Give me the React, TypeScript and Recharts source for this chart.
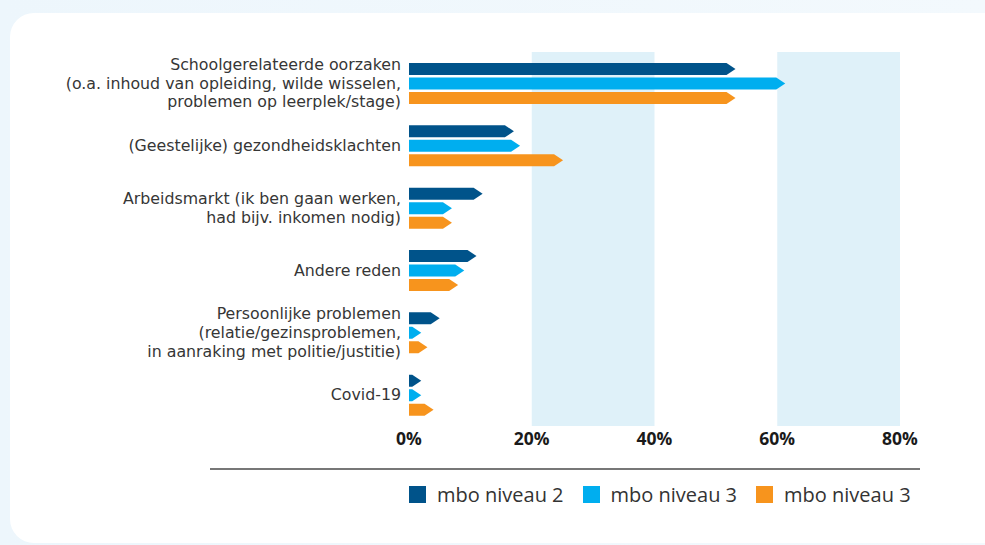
import { BarChart, Bar, XAxis, YAxis, ReferenceArea } from 'recharts'

// redenen voor voortijdig schoolverlaten, per niveau (%)
const categories = [
  'Schoolgerelateerde oorzaken\n(o.a. inhoud van opleiding, wilde wisselen,\nproblemen op leerplek/stage)',
  '(Geestelijke) gezondheidsklachten',
  'Arbeidsmarkt (ik ben gaan werken,\nhad bijv. inkomen nodig)',
  'Andere reden',
  'Persoonlijke problemen\n(relatie/gezinsproblemen,\nin aanraking met politie/justitie)',
  'Covid-19',
]
const mbo2 = [53.2, 17.1, 12.0, 11.0, 5.0, 2.0]
const mbo3a = [61.3, 18.1, 7.0, 9.0, 2.0, 2.0]
const mbo3b = [53.2, 25.1, 7.0, 8.0, 3.0, 4.0]
const xTicks = [0, 20, 40, 60, 80]

const series = [
  { key: 'mbo2', name: 'mbo niveau 2', color: '#00538a' },
  { key: 'mbo3a', name: 'mbo niveau 3', color: '#00aeef' },
  { key: 'mbo3b', name: 'mbo niveau 3', color: '#f7941d' },
]

const data = categories.map((name, i) => ({
  name,
  mbo2: mbo2[i],
  mbo3a: mbo3a[i],
  mbo3b: mbo3b[i],
}))

const FONT = '"Open Sans", "Noto Sans", sans-serif'
const LABEL_FONT = '"DejaVu Sans", sans-serif'

// bar with a pointed end
function ArrowBar(props: any) {
  const { x, y, width, height, fill } = props
  if (!width || width <= 0) return null
  const a = Math.min(height * 0.75, width)
  const d = `M${x},${y} L${x + width - a},${y} L${x + width},${y + height / 2} L${x + width - a},${y + height} L${x},${y + height} Z`
  return <path d={d} fill={fill} />
}

function CategoryTick(props: any) {
  const { x, y, payload } = props
  const lines = String(payload.value).split('\n')
  const lh = 18.6
  const start = -((lines.length - 1) / 2) * lh
  return (
    <text x={x} y={y} textAnchor="end" fill="#363636" fontSize={15.8} fontFamily={LABEL_FONT}>
      {lines.map((l, i) => (
        <tspan key={i} x={x} dy={i === 0 ? start + 5.5 : lh}>
          {l}
        </tspan>
      ))}
    </text>
  )
}

export default function App() {
  return (
    <div
      style={{
        position: 'absolute',
        left: 0,
        top: 0,
        width: 985,
        height: 545,
        overflow: 'hidden',
        background: 'linear-gradient(90deg, #edf6fc 0%, #f3f9fd 100%)',
        fontFamily: FONT,
      }}
    >
      <div
        style={{
          position: 'absolute',
          left: 10,
          top: 13,
          width: 1000,
          height: 530,
          background: '#fff',
          borderRadius: 24,
        }}
      />
      <div style={{ position: 'absolute', left: 0, top: 0 }}>
        <BarChart
          width={985}
          height={545}
          data={data}
          layout="vertical"
          margin={{ top: 52, right: 85, bottom: 89, left: 9 }}
          barSize={12}
          barGap={2.5}
        >
          <ReferenceArea x1={20} x2={40} fill="#dff1f9" fillOpacity={1} stroke="none" />
          <ReferenceArea x1={60} x2={80} fill="#dff1f9" fillOpacity={1} stroke="none" />
          <XAxis
            type="number"
            domain={[0, 80]}
            ticks={xTicks}
            tickFormatter={(v) => `${v}%`}
            axisLine={false}
            tickLine={false}
            tickMargin={1}
            height={30}
            tick={{ fill: '#1a1a1a', fontSize: 17.5, fontWeight: 700, fontFamily: FONT }}
          />
          <YAxis
            type="category"
            dataKey="name"
            width={400}
            axisLine={false}
            tickLine={false}
            interval={0}
            tick={<CategoryTick />}
          />
          {series.map((s) => (
            <Bar
              key={s.key}
              dataKey={s.key}
              name={s.name}
              fill={s.color}
              shape={<ArrowBar />}
              isAnimationActive={false}
            />
          ))}
        </BarChart>
      </div>
      <div
        style={{
          position: 'absolute',
          left: 210,
          top: 468,
          width: 710,
          height: 1.5,
          background: '#777',
        }}
      />
      <div
        style={{
          position: 'absolute',
          left: 409,
          top: 481,
          display: 'flex',
          alignItems: 'center',
          fontSize: 20,
          color: '#333',
        }}
      >
        {series.map((s, i) => (
          <div key={i} style={{ display: 'flex', alignItems: 'center', marginRight: 19 }}>
            <span style={{ width: 17, height: 17, background: s.color, marginRight: 11 }} />
            <span>{s.name}</span>
          </div>
        ))}
      </div>
    </div>
  )
}
